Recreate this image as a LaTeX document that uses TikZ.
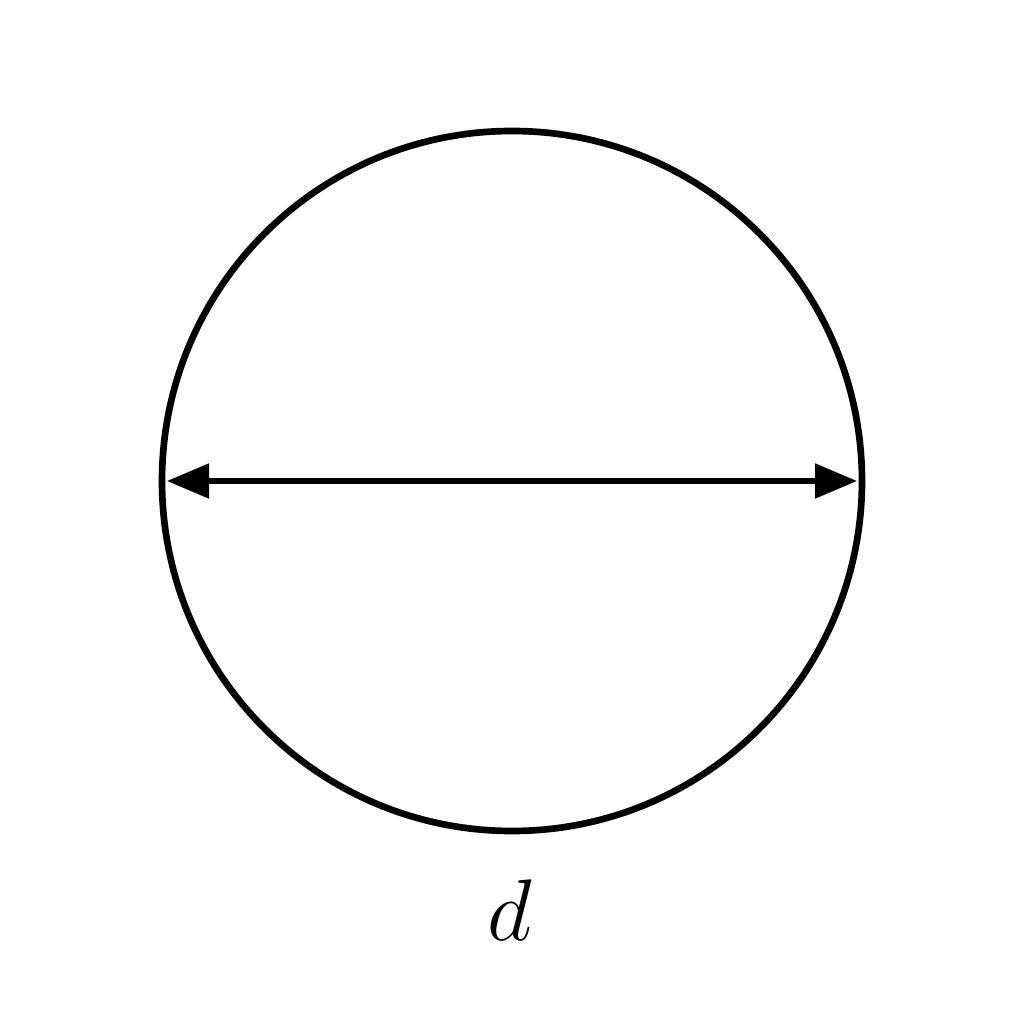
\documentclass[tikz,border=0pt]{standalone}
\usetikzlibrary{arrows.meta}
\begin{document}
\begin{tikzpicture}
  \useasboundingbox (0,0) rectangle (10.24,10.24);
  \tikzset{disc/.style={circle, draw, line width=1.9pt, minimum size=7cm, outer sep=0pt, inner sep=0pt},
    dim/.style={{Triangle[length=0.42cm,width=0.34cm]}-{Triangle[length=0.42cm,width=0.34cm]}, line width=1.5pt, shorten <=0.05cm, shorten >=0.05cm}}
  	\node[disc] (ball) at (5.12,5.43) {};
  	\draw[dim] (ball.west) -- (ball.east);
  	\node[anchor=base, font=\fontsize{26}{31}\selectfont] (dlabel) at (5.10,0.84) {$d$};
\end{tikzpicture}
\end{document}
